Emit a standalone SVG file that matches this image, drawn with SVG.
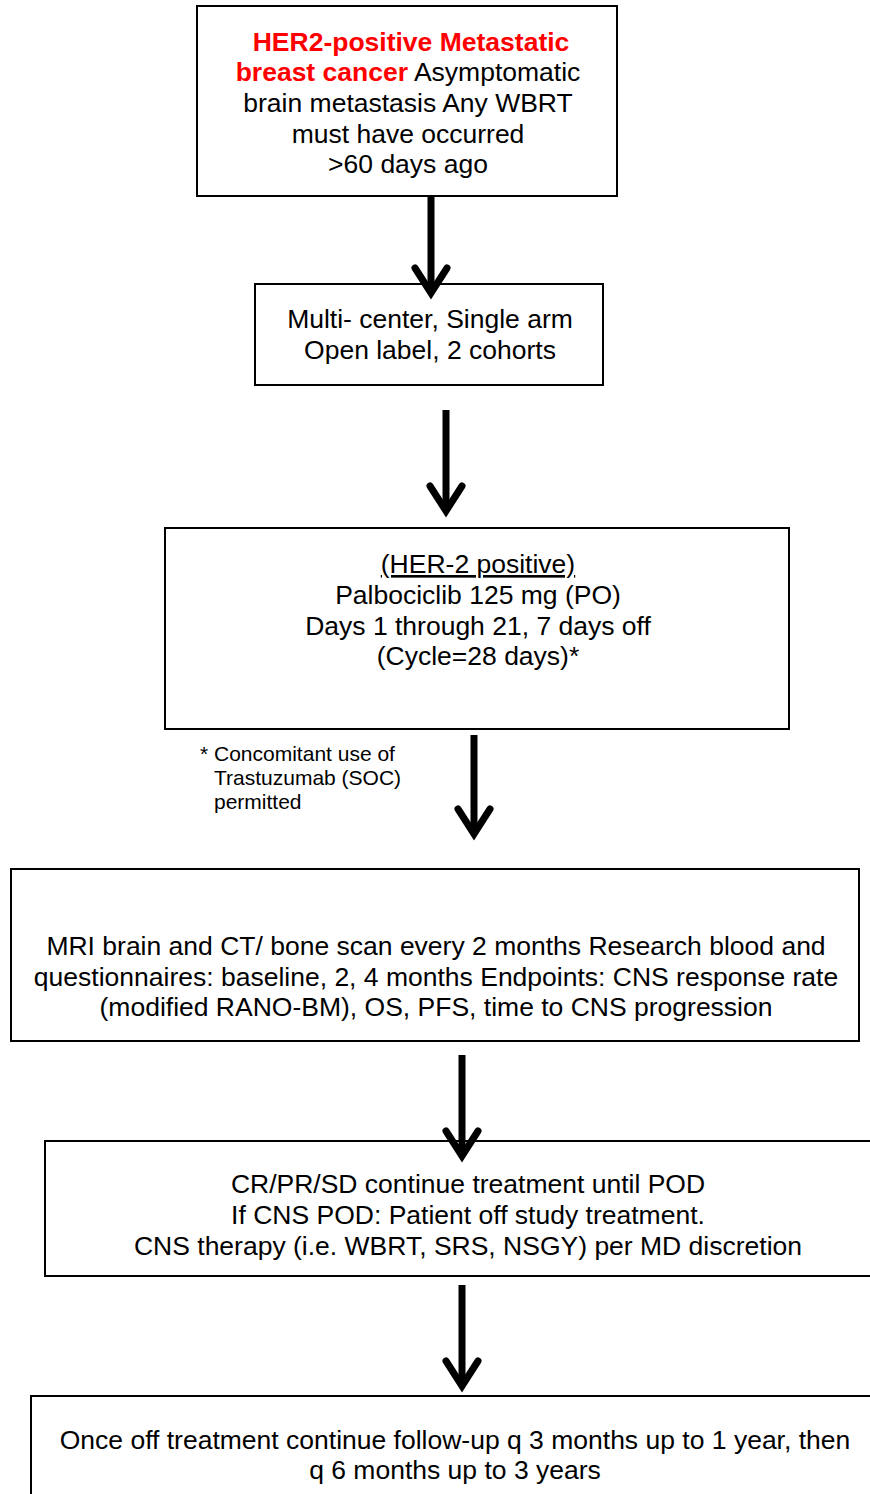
<svg xmlns="http://www.w3.org/2000/svg" width="870" height="1494" viewBox="0 0 870 1494">
<style>
.box{fill:#fff;stroke:#000;stroke-width:2}
.t{font-family:"Liberation Sans",Arial,sans-serif;font-size:26.5px;fill:#000;text-anchor:middle}
.r{fill:#ff0000;font-weight:bold}
.fn{font-family:"Liberation Sans",Arial,sans-serif;font-size:21px;fill:#000}
.sh{stroke:#000;stroke-width:7;fill:none}
.hd{stroke:#000;stroke-width:7;fill:none;stroke-linecap:round;stroke-linejoin:miter}
</style>
<rect width="870" height="1494" fill="#fff"/>
<g id="n1">
<rect class="box" x="197" y="6" width="420" height="190"/>
<text class="t" x="411" y="51"><tspan class="r">HER2-positive Metastatic</tspan></text>
<text class="t" x="408" y="81"><tspan class="r">breast cancer</tspan> Asymptomatic</text>
<text class="t" x="408" y="112">brain metastasis Any WBRT</text>
<text class="t" x="408" y="143">must have occurred</text>
<text class="t" x="408" y="173">&gt;60 days ago</text>
</g>
<g id="n2">
<rect class="box" x="255" y="284" width="348" height="101"/>
<text class="t" x="430" y="328">Multi- center, Single arm</text>
<text class="t" x="430" y="359">Open label, 2 cohorts</text>
</g>
<g id="n3">
<rect class="box" x="165" y="528" width="624" height="201"/>
<text class="t" x="478" y="573" text-decoration="underline">(HER-2 positive)</text>
<text class="t" x="478" y="604">Palbociclib 125 mg (PO)</text>
<text class="t" x="478" y="635">Days 1 through 21, 7 days off</text>
<text class="t" x="478" y="665">(Cycle=28 days)*</text>
</g>
<g id="note">
<text class="fn" x="200" y="761">* Concomitant use of</text>
<text class="fn" x="214" y="785">Trastuzumab (SOC)</text>
<text class="fn" x="214" y="809">permitted</text>
</g>
<g id="n4">
<rect class="box" x="11" y="869" width="848" height="172"/>
<text class="t" x="436" y="955">MRI brain and CT/ bone scan every 2 months Research blood and</text>
<text class="t" x="436" y="986">questionnaires: baseline, 2, 4 months Endpoints: CNS response rate</text>
<text class="t" x="436" y="1016">(modified RANO-BM), OS, PFS, time to CNS progression</text>
</g>
<g id="n5">
<rect class="box" x="45" y="1141" width="830" height="135"/>
<text class="t" x="468" y="1193">CR/PR/SD continue treatment until POD</text>
<text class="t" x="468" y="1224">If CNS POD: Patient off study treatment.</text>
<text class="t" x="468" y="1255">CNS therapy (i.e. WBRT, SRS, NSGY) per MD discretion</text>
</g>
<g id="n6">
<rect class="box" x="31" y="1396" width="844" height="110"/>
<text class="t" x="455" y="1449">Once off treatment continue follow-up q 3 months up to 1 year, then</text>
<text class="t" x="455" y="1479">q 6 months up to 3 years</text>
</g>
<g id="connectors">
<line class="sh" x1="431" y1="196" x2="431" y2="293"/>
<polyline class="hd" points="415,268 431,293 447,268"/>
<line class="sh" x1="446" y1="410" x2="446" y2="511"/>
<polyline class="hd" points="430,486 446,511 462,486"/>
<line class="sh" x1="474" y1="735" x2="474" y2="834"/>
<polyline class="hd" points="458,809 474,834 490,809"/>
<line class="sh" x1="462" y1="1055" x2="462" y2="1156"/>
<polyline class="hd" points="446,1131 462,1156 478,1131"/>
<line class="sh" x1="462" y1="1285" x2="462" y2="1386"/>
<polyline class="hd" points="446,1361 462,1386 478,1361"/>
</g>
</svg>
